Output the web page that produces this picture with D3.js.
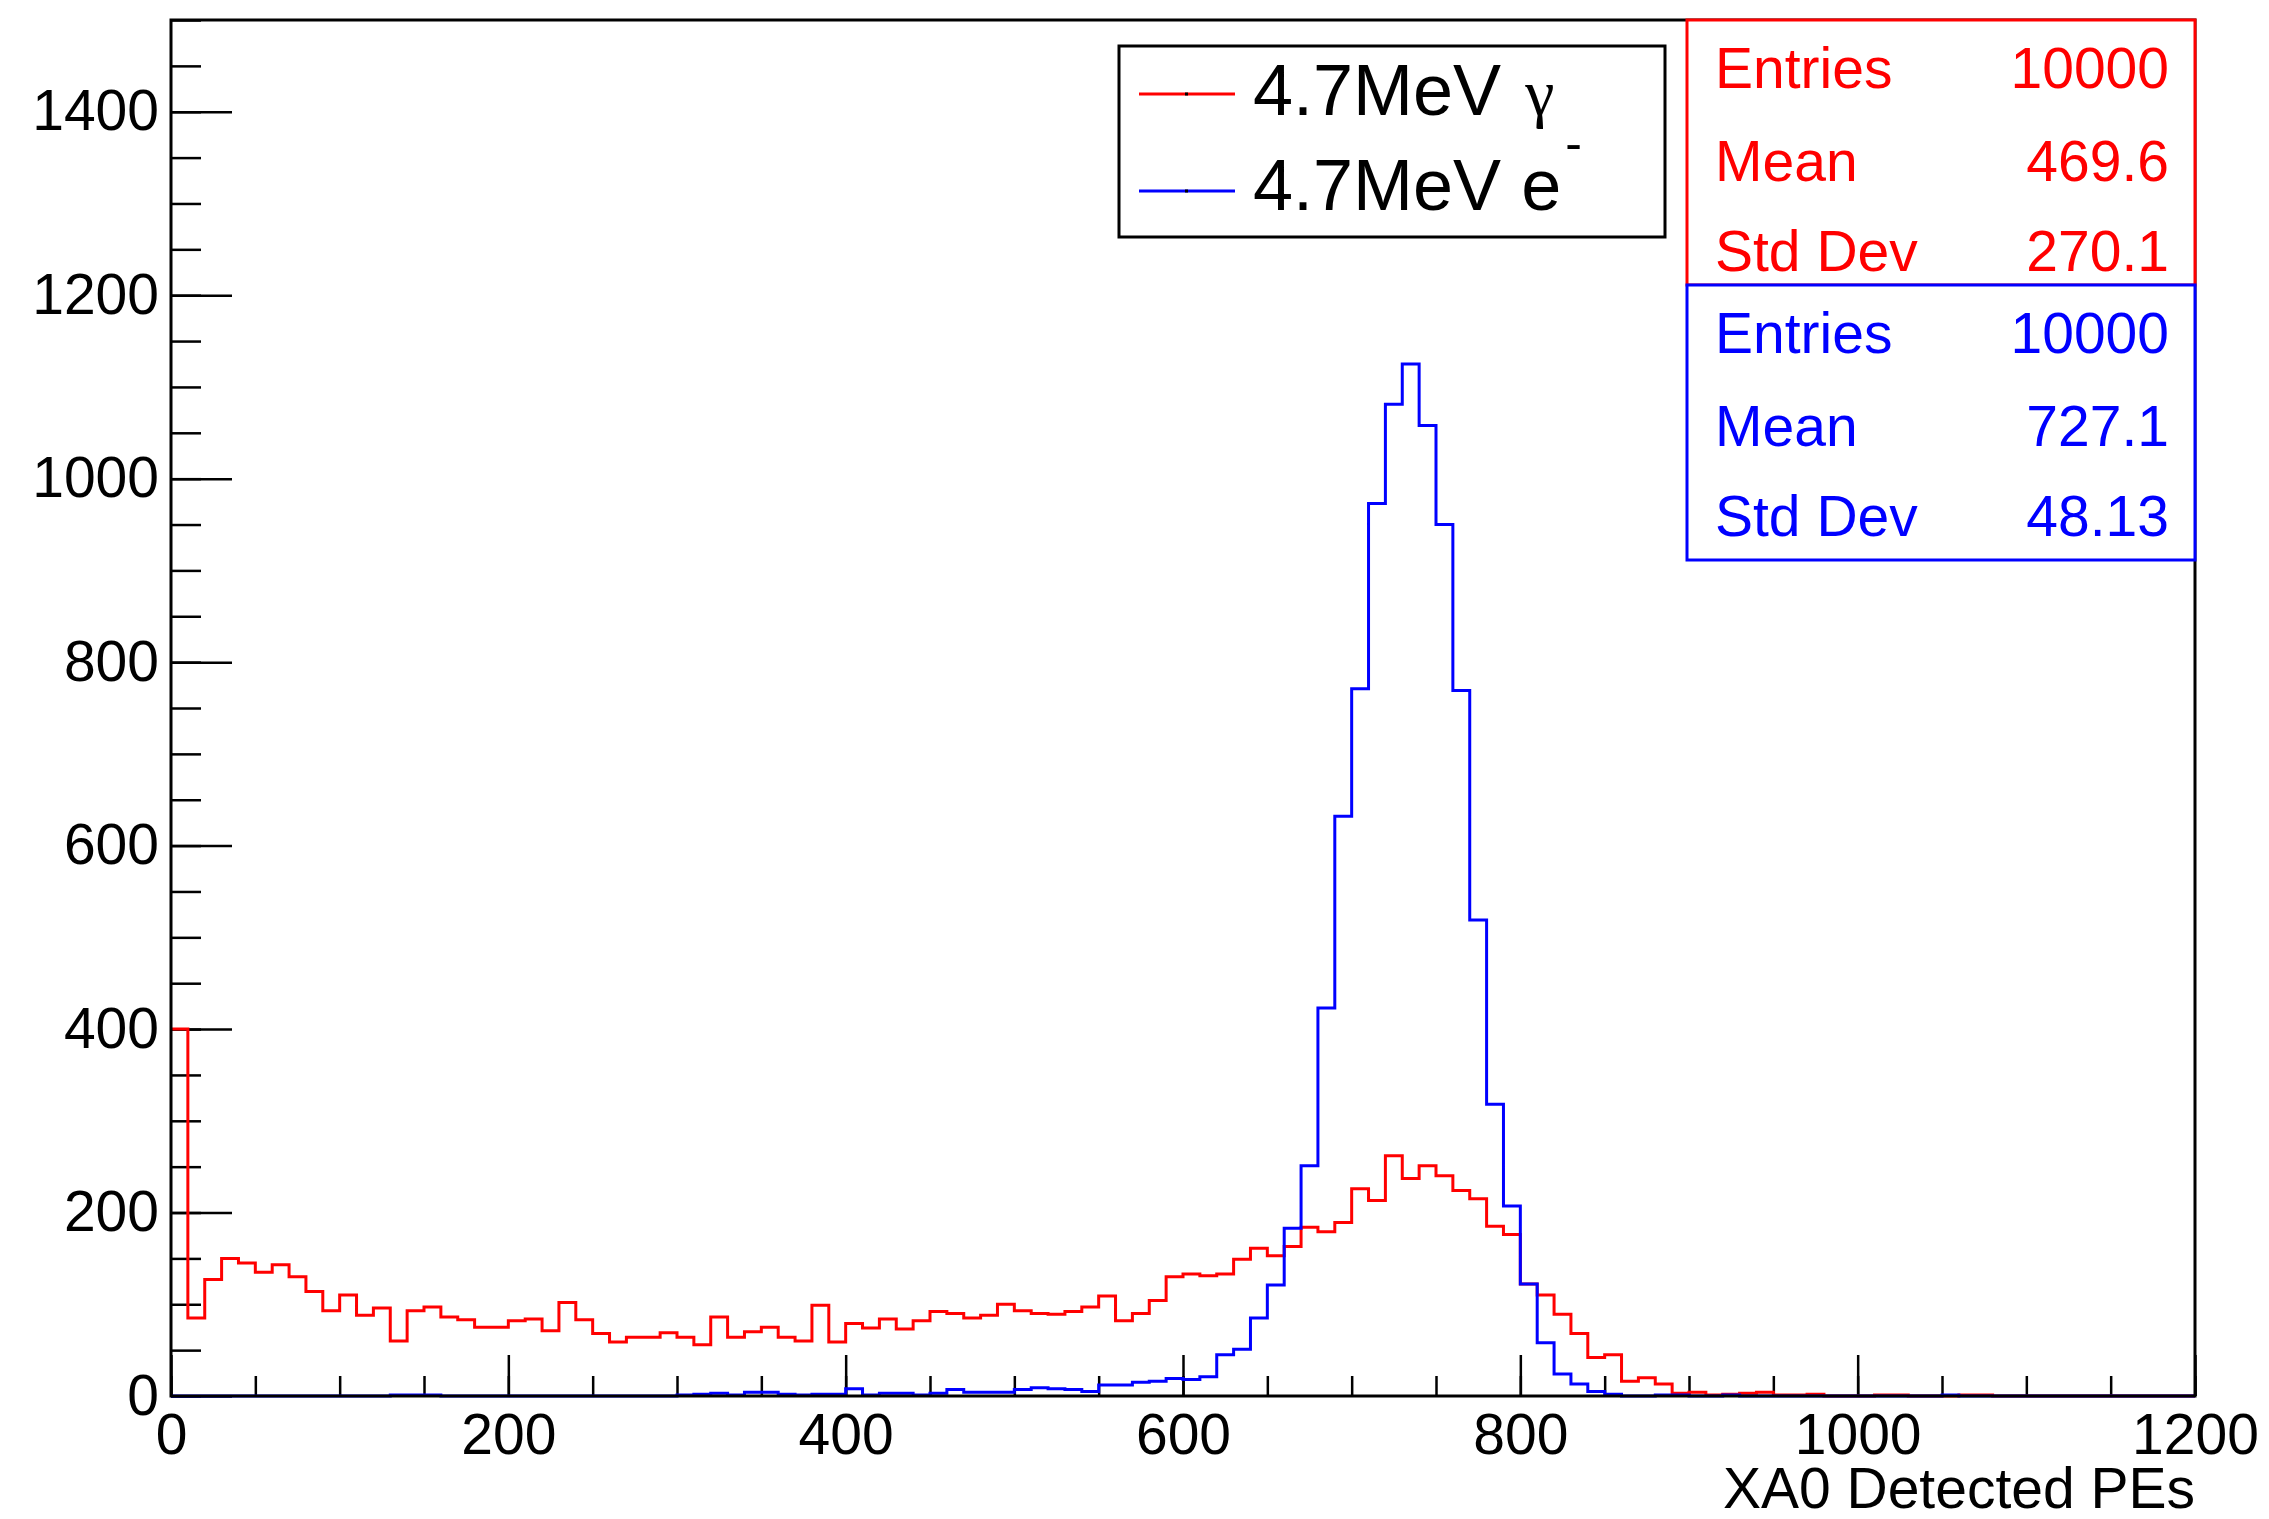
<!DOCTYPE html>
<html>
<head>
<meta charset="utf-8">
<script src="https://cdn.jsdelivr.net/npm/d3@7"></script>
<style>
  body { margin: 0; background: #fff; }
  text { font-family: "Liberation Sans", Arial, sans-serif; }
</style>
</head>
<body>
<script>
// bins of 10 PE from 0 to 1200
var binWidth = 10;
var xRange = [0, 1200];
var yRange = [0, 1500];

var gammaCounts = [
  400, 85, 127, 150, 145, 135, 143, 130, 114, 93,
  110, 88, 96, 60, 93, 97, 86, 83, 75, 75,
  82, 84, 71, 102, 83, 68, 59, 64, 64, 69,
  64, 56, 86, 64, 70, 75, 64, 60, 99, 59,
  79, 74, 84, 73, 82, 92, 90, 85, 88, 100,
  93, 90, 89, 92, 97, 109, 82, 90, 104, 130,
  133, 131, 133, 149, 161, 153, 163, 184, 179, 189,
  226, 213, 262, 237, 251, 240, 224, 215, 185, 176,
  122, 110, 89, 68, 42, 45, 16, 20, 13, 3,
  4, 1, 2, 3, 4, 1, 1, 2, 0, 0,
  0, 1, 1, 0, 0, 0, 1, 1, 0, 0,
  0, 0, 0, 0, 0, 0, 0, 0, 0, 0
];

var electronCounts = [
  0, 0, 0, 0, 0, 0, 0, 0, 0, 0,
  0, 0, 0, 1, 1, 1, 0, 0, 0, 0,
  0, 0, 0, 0, 0, 0, 0, 0, 0, 0,
  1, 2, 3, 1, 4, 4, 2, 1, 2, 2,
  8, 1, 3, 3, 1, 3, 7, 4, 4, 4,
  7, 9, 8, 7, 5, 12, 12, 15, 16, 19,
  18, 21, 45, 51, 85, 121, 183, 251, 423, 632,
  771, 973, 1081, 1125, 1058, 950, 769, 519, 318, 207,
  122, 58, 24, 13, 5, 2, 0, 0, 1, 1,
  0, 0, 1, 0, 0, 0, 0, 0, 0, 0,
  0, 0, 0, 0, 0, 1, 0, 0, 0, 0,
  0, 0, 0, 0, 0, 0, 0, 0, 0, 0
];

var legendLabels = ["4.7MeV ", "4.7MeV e"];
var statNames = ["Entries", "Mean", "Std Dev"];
var gammaStats = ["10000", "469.6", "270.1"];
var electronStats = ["10000", "727.1", "48.13"];
var xTitle = "XA0 Detected PEs";

var W = 2269, H = 1519;
var margin = { top: 20, right: 74, bottom: 123, left: 171 };
var width = W - margin.left - margin.right,
  height = H - margin.top - margin.bottom;

var svg = d3.select("body").append("svg")
  .attr("width", W)
  .attr("height", H);

var g = svg.append("g")
  .attr("transform", "translate(" + margin.left + "," + margin.top + ")");

var x = d3.scaleLinear().domain(xRange).range([0, width]);
var y = d3.scaleLinear().domain(yRange).range([height, 0]);

// ticks point inwards like ROOT
var yMinor = d3.axisLeft(y).tickValues(d3.range(0, 1501, 50)).tickSize(-30).tickFormat("");
var yMajor = d3.axisLeft(y).tickValues(d3.range(0, 1401, 200)).tickSize(-61).tickPadding(12).tickFormat(d3.format("d"));
var xMinor = d3.axisBottom(x).tickValues(d3.range(0, 1201, 50)).tickSize(-20).tickFormat("");
var xMajor = d3.axisBottom(x).tickValues(d3.range(0, 1201, 200)).tickSize(-41).tickPadding(18).tickFormat(d3.format("d"));

[yMinor, yMajor].forEach(function (a) {
  g.append("g").attr("class", "axis").call(a);
});
[xMinor, xMajor].forEach(function (a) {
  g.append("g").attr("class", "axis").attr("transform", "translate(0," + height + ")").call(a);
});

g.selectAll(".axis .domain").remove();
g.selectAll(".axis line").attr("stroke", "#000").attr("stroke-width", 2.5);
g.selectAll(".axis text").style("font-size", "57px").attr("fill", "#000");

// histograms
function steps(counts) {
  var pts = counts.map(function (v, i) { return [i * binWidth, v]; });
  pts.push([xRange[1], counts[counts.length - 1]]);
  return pts;
}

var line = d3.line()
  .x(function (d) { return x(d[0]); })
  .y(function (d) { return y(d[1]); })
  .curve(d3.curveStepAfter);

g.append("path")
  .datum(steps(gammaCounts))
  .attr("d", line)
  .attr("fill", "none")
  .attr("stroke", "#ff0000")
  .attr("stroke-width", 3);

g.append("path")
  .datum(steps(electronCounts))
  .attr("d", line)
  .attr("fill", "none")
  .attr("stroke", "#0000ff")
  .attr("stroke-width", 3);

// frame
g.append("rect")
  .attr("width", width).attr("height", height)
  .attr("fill", "none").attr("stroke", "#000").attr("stroke-width", 3);

// x title
svg.append("text")
  .attr("x", margin.left + width)
  .attr("y", 1508)
  .attr("text-anchor", "end")
  .style("font-size", "57px")
  .text(xTitle);

// legend
var leg = svg.append("g");
leg.append("rect")
  .attr("x", 1119).attr("y", 46).attr("width", 546).attr("height", 191)
  .attr("fill", "#fff").attr("stroke", "#000").attr("stroke-width", 3);

var legColors = ["#ff0000", "#0000ff"];
var legRows = [94, 191];
legRows.forEach(function (ly, i) {
  leg.append("line")
    .attr("x1", 1139).attr("x2", 1235).attr("y1", ly).attr("y2", ly)
    .attr("stroke", legColors[i]).attr("stroke-width", 3);
  leg.append("rect")
    .attr("x", 1185).attr("y", ly - 1.5).attr("width", 3).attr("height", 3)
    .attr("fill", "#000");
});

var t1 = leg.append("text").attr("x", 1253).attr("y", 115).style("font-size", "72px");
t1.append("tspan").text(legendLabels[0]);
t1.append("tspan").style("font-family", "'Liberation Serif', 'DejaVu Serif', serif")
  .style("font-size", "66px").attr("dx", 4).text("\u03b3");

var t2 = leg.append("text").attr("x", 1253).attr("y", 210).style("font-size", "72px");
t2.append("tspan").text(legendLabels[1]);
t2.append("tspan").attr("dx", 4).attr("dy", -50).style("font-size", "50px").text("-");

// stats boxes
var statRows = [68, 161, 251];
function statBox(top, bottom, color, values) {
  var sb = svg.append("g");
  sb.append("rect")
    .attr("x", 1687).attr("y", top).attr("width", 508).attr("height", bottom - top)
    .attr("fill", "#fff").attr("stroke", color).attr("stroke-width", 3);
  statNames.forEach(function (n, i) {
    var by = top + statRows[i];
    sb.append("text").attr("x", 1715).attr("y", by)
      .attr("fill", color).style("font-size", "57px").text(n);
    sb.append("text").attr("x", 2169).attr("y", by)
      .attr("text-anchor", "end")
      .attr("fill", color).style("font-size", "57px").text(values[i]);
  });
}
statBox(20, 285, "#ff0000", gammaStats);
statBox(285, 560, "#0000ff", electronStats);
</script>
</body>
</html>
